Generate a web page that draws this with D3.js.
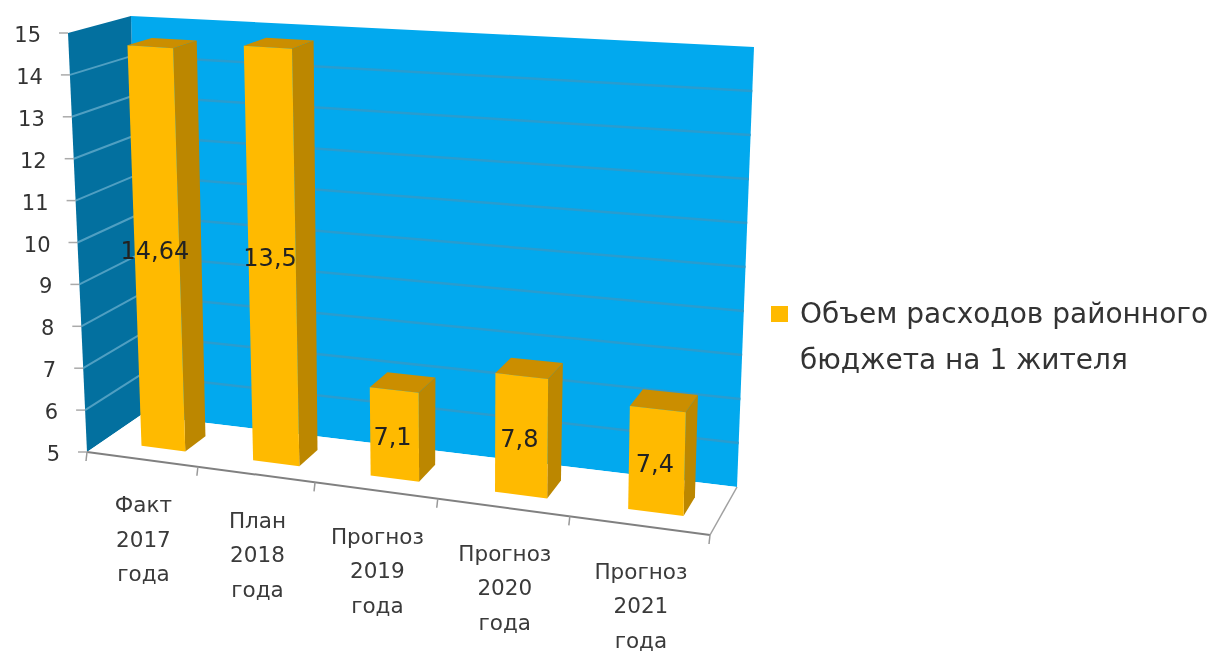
<!DOCTYPE html>
<html><head><meta charset="utf-8">
<script src="https://cdn.jsdelivr.net/npm/d3@7"></script>
<style>html,body{margin:0;background:#fff}svg{display:block;filter:blur(.7px)}text{font-family:"DejaVu Sans",sans-serif}</style>
</head><body><svg id="c" width="1216" height="655"></svg>
<script>
const categories=[["Факт","2017","года"],["План","2018","года"],["Прогноз","2019","года"],["Прогноз","2020","года"],["Прогноз","2021","года"]];
const valueLabels=["14,64","13,5","7,1","7,8","7,4"];
const barValues=[14.64,14.8,7.05,7.7,7.3];
const legendLines=["Объем расходов районного","бюджета на 1 жителя"];
const valueDomain=[5,15];

const svg=d3.select("#c");
const vS=d3.scaleLinear().domain(valueDomain).range([0,1]);
const uS=d3.scaleLinear().domain([0,1,2,3,4,5]).range([0,.178,.366,.563,.775,1]);
const floor={fl:[87,452],fr:[710,535],bl:[141,415],br:[737,487]};
const ceil={fl:[68,33],fr:[719,75],bl:[131,16],br:[754,47]};
const lerp=(a,b,t)=>[a[0]+(b[0]-a[0])*t,a[1]+(b[1]-a[1])*t];
function P(u,v,w){
  const f=uS(u),t=vS(v);
  const pl=k=>lerp(lerp(k.fl,k.fr,f),lerp(k.bl,k.br,f),w);
  return lerp(pl(floor),pl(ceil),t);
}
const line=d3.line();
const poly=(pts,fill)=>svg.append("path").attr("d",line(pts)+"Z").attr("fill",fill);
const seg=(a,b,c,wd)=>svg.append("path").attr("d",line([a,b])).attr("stroke",c).attr("stroke-width",wd).attr("fill","none");

poly([P(0,5,1),P(5,5,1),P(5,15,1),P(0,15,1)],"#02a9ee");
poly([P(0,5,0),P(0,5,1),P(0,15,1),P(0,15,0)],"#03709f");
poly([P(0,5,0),P(5,5,0),P(5,5,1),P(0,5,1)],"#ffffff");

const ticks=vS.ticks(10);
ticks.forEach(v=>{
  if(v>5&&v<15){
    seg(P(0,v,1),P(5,v,1),"#2a9cce",2.5);
    seg(P(0,v,0),P(0,v,1),"#4f9fc2",2);
  }
  const a=P(0,v,0);
  seg([a[0]-9,a[1]],a,"#aaa",1.5);
  svg.append("text").attr("x",a[0]-27).attr("y",a[1]+9).attr("text-anchor","end")
    .attr("font-size",21).attr("fill","#333").text(v);
});
seg(P(0,5,0),P(5,5,0),"#808080",2);
seg(P(5,5,0),P(5,5,1),"#a0a0a0",1.5);
d3.range(0,6).forEach(u=>{const a=P(u,5,0);seg(a,[a[0]-1,a[1]+9],"#999",1.5);});

barValues.forEach((val,i)=>{
  const u0=i+.35,u1=i+.75,w0=.3,w1=.7;
  poly([P(u0,val,w0),P(u1,val,w0),P(u1,val,w1),P(u0,val,w1)],"#cb8e00");
  poly([P(u1,5,w0),P(u1,5,w1),P(u1,val,w1),P(u1,val,w0)],"#bc8700");
  poly([P(u0,5,w0),P(u1,5,w0),P(u1,val,w0),P(u0,val,w0)],"#ffba00");
  const m=P((u0+u1)/2,5+(val-5)/2,w0);
  svg.append("text").attr("x",m[0]-2).attr("y",m[1]+11).attr("text-anchor","middle")
    .attr("font-size",24).attr("fill","#222").text(valueLabels[i]);
});

categories.forEach((lines,i)=>{
  const a=P(i+.5,5,0);
  lines.forEach((s,j)=>svg.append("text").attr("x",a[0]+1).attr("y",a[1]+53+j*34.5)
    .attr("text-anchor","middle").attr("font-size",21.5).attr("fill","#3a3a3a").text(s));
});

svg.append("rect").attr("x",771).attr("y",306).attr("width",17).attr("height",16).attr("fill","#ffba00");
legendLines.forEach((s,j)=>svg.append("text").attr("x",800).attr("y",323+j*46)
  .attr("font-size",28).attr("fill","#333").text(s));
</script></body></html>
